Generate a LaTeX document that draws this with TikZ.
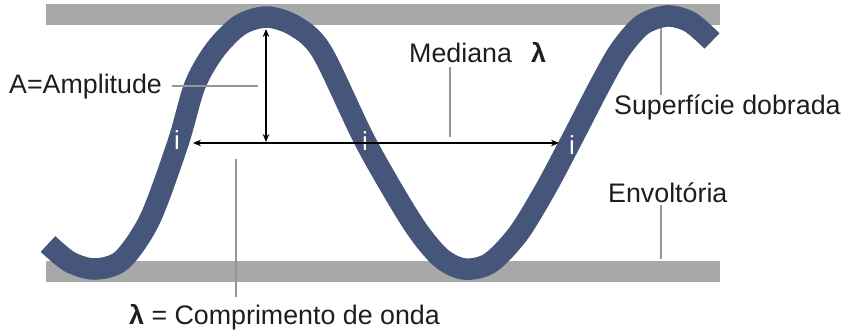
\documentclass[tikz,border=0pt]{standalone}
\usepackage{fontspec}
\setmainfont{Liberation Sans}
\usetikzlibrary{arrows.meta}
\definecolor{wavecol}{RGB}{70,85,122}
\definecolor{barcol}{RGB}{168,168,168}
\definecolor{leadcol}{RGB}{150,150,150}
\definecolor{txtcol}{RGB}{30,30,30}
\begin{document}
\begin{tikzpicture}[x=1pt,y=-1pt,
  lbl/.style={anchor=base west, inner sep=0pt, text=txtcol, font=\fontsize{26.8}{30}\selectfont},
  inflect/.style={anchor=center, inner sep=0pt, text=white, font=\fontsize{26}{28}\selectfont},
  leader/.style={draw=leadcol, line width=1.3pt},
  dimarrow/.style={draw=black, line width=1.8pt, {Stealth[length=8pt,width=6.5pt]}-{Stealth[length=8pt,width=6.5pt]}},
  envbar/.style={fill=barcol},
  fold/.style={draw=wavecol, line width=21.5pt, line join=round}]
\useasboundingbox (0,0) rectangle (842,332);
% envelope bars
\fill[envbar] (46,4) rectangle (720,25);
\fill[envbar] (46,261) rectangle (720,282);
% folded surface
\draw[fold] plot[smooth, tension=0.5] coordinates {
  (48,244) (70,262) (95,269) (122,260) (150,219) (178,143) (195,85) (215,50)
  (240,25) (267,17) (295,26) (322,52) (366,143) (412,222) (440,257) (464,269)
  (490,263) (518,234) (545,190) (570,143) (600,85) (620,50) (642,25) (667,16)
  (690,22) (712,41)};
% inflection labels
\node[inflect] (i1) at (177,140) {i};
\node[inflect] (i2) at (365,141) {i};
\node[inflect] (i3) at (572,145) {i};
% dimension arrows
\coordinate (hL) at (193,143);
\coordinate (hR) at (559,143);
\coordinate (vT) at (266,29);
\coordinate (vB) at (266,142);
\draw[dimarrow] (hL) -- (hR);
\draw[dimarrow] (vT) -- (vB);
% labels
\node[lbl] (amp) at (9,93) {A=Amplitude};
\node[lbl] (med) at (409,62) {Mediana\hspace{19pt}\textbf{λ}};
\node[lbl] (sup) at (614,114) {Superfície dobrada};
\node[lbl] (env) at (608,202) {Envoltória};
\node[lbl] (comp) at (129,324) {\textbf{λ} = Comprimento de onda};
% leader lines
\coordinate (ampA) at (172,86);
\coordinate (ampB) at (258,86);
\coordinate (medA) at (450,67);
\coordinate (medB) at (450,137);
\coordinate (supA) at (661,28);
\coordinate (supB) at (661,95);
\coordinate (envA) at (661,205);
\coordinate (envB) at (661,259);
\coordinate (compA) at (236,159);
\coordinate (compB) at (236,297);
\draw[leader] (ampA) -- (ampB);
\draw[leader] (medA) -- (medB);
\draw[leader] (supA) -- (supB);
\draw[leader] (envA) -- (envB);
\draw[leader] (compA) -- (compB);
\end{tikzpicture}
\end{document}
